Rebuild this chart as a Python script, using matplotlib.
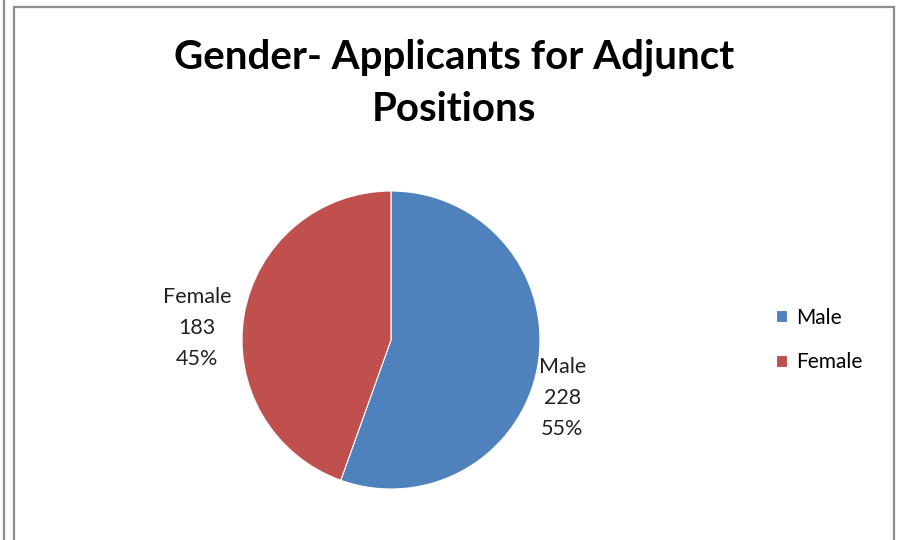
import matplotlib
matplotlib.use("Agg")
import matplotlib.pyplot as plt
from matplotlib.patches import Rectangle
from matplotlib.lines import Line2D

title = "Gender- Applicants for Adjunct\nPositions"
categories = ["Male", "Female"]
counts = [228, 183]
percents = ["55%", "45%"]
colors = ["#4F81BD", "#C0504D"]

plt.rcParams['font.family'] = ['Lato', 'DejaVu Sans']

W, H = 901, 540
fig = plt.figure(figsize=(W / 100, H / 100), dpi=100)

# frame lines like the screenshot
gray = "#8C8C8C"
fig.add_artist(Line2D([3.5 / W, 3.5 / W], [0, 1], color=gray, lw=1.6,
                      transform=fig.transFigure))
fig.add_artist(Rectangle((14 / W, -0.05), (894 - 14) / W, 1.05 - 7 / H,
                         fill=False, edgecolor=gray, lw=1.6,
                         transform=fig.transFigure))

fig.text(454 / W, 1 - 83 / H, title, ha="center", va="center",
         fontsize=29, fontweight="bold", linespacing=1.5)

cx, cy, r = 391, 340, 149
ax = fig.add_axes([(cx - r) / W, (H - cy - r) / H, 2 * r / W, 2 * r / H])
wedges, _ = ax.pie(counts, colors=colors, startangle=90, counterclock=False,
                   wedgeprops=dict(edgecolor="white", linewidth=0.8))
ax.set_xlim(-1, 1)
ax.set_ylim(-1, 1)
ax.set_aspect("equal")

# label positions (in radius units)
label_pos = [(1.15, -0.39), (-1.30, 0.08)]
for (x, y), cat, n, p in zip(label_pos, categories, counts, percents):
    ax.text(x, y, f"{cat}\n{n}\n{p}", ha="center", va="center",
            fontsize=15.5, color="#222222", linespacing=1.7, clip_on=False)

fig.legend(wedges, categories, loc="center left",
           bbox_to_anchor=(757 / W, 1 - 340 / H), frameon=False,
           fontsize=15, handlelength=0.52, handleheight=0.52,
           handletextpad=0.45, labelspacing=1.2)

fig.savefig("out.png", dpi=100)
